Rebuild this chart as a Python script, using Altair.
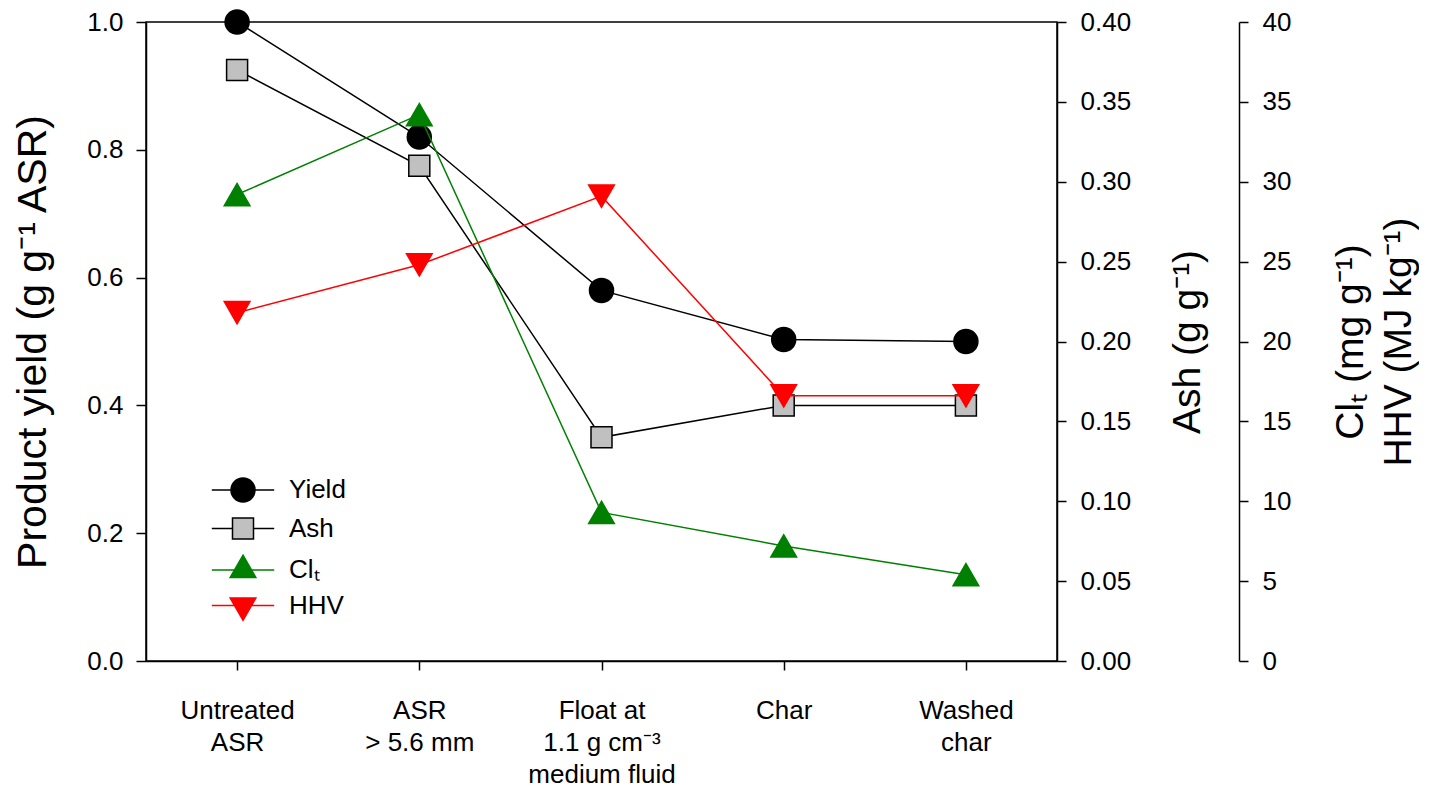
import altair as alt
import pandas as pd

# ---- data ----
categories = ["Untreated|ASR", "ASR|> 5.6 mm", "Float at|1.1 g cm⁻³|medium fluid", "Char", "Washed|char"]
yield_vals = [1.0, 0.82, 0.58, 0.503, 0.500]          # product yield (g g-1 ASR)
ash_vals = [0.37, 0.31, 0.14, 0.16, 0.16]             # ash (g g-1)
clt_vals = [29.2, 34.2, 9.3, 7.2, 5.4]                # ClT (mg g-1)
hhv_vals = [21.8, 24.8, 29.1, 16.6, 16.6]             # HHV (MJ kg-1)

series_names = ["Yield", "Ash", "Clₜ", "HHV"]
series_fills = ["#000000", "#c0c0c0", "#008000", "#ff0000"]
series_strokes = ["#000000", "#000000", "#008000", "#ff0000"]
# legend glyphs: short line with the marker in the middle
legend_paths = [
    "M-2.6,0L-1,0M1,0L2.6,0M-1,0A1,1,0,1,1,1,0A1,1,0,1,1,-1,0Z",
    "M-2.6,0L-0.875,0M0.875,0L2.6,0M-0.875,-0.875L0.875,-0.875L0.875,0.875L-0.875,0.875Z",
    "M-2.6,0L2.6,0M0,-1.236L1.07,0.618L-1.07,0.618Z",
    "M-2.6,0L2.6,0M0,1.236L1.07,-0.618L-1.07,-0.618Z",
]

df = pd.DataFrame({"cat": categories, "yield": yield_vals, "ash": ash_vals,
                   "clt": clt_vals, "hhv": hhv_vals})

FONT = "Liberation Sans"
W, H = 911, 639

x_enc = alt.X("cat:N", sort=categories,
              scale=alt.Scale(type="point", padding=0.5),
              axis=alt.Axis(title=None, labelExpr="split(datum.label, '|')", labelAngle=0,
                            labelFontSize=26, labelLineHeight=32, labelBaseline="top",
                            tickSize=9, labelPadding=27))


def series_layer(field, domain, line_color, shape, fill, stroke, size, axis):
    y = alt.Y(f"{field}:Q", scale=alt.Scale(domain=domain, nice=False, zero=True), axis=axis)
    base = alt.Chart(df).encode(x=x_enc, y=y)
    line = base.mark_line(color=line_color, strokeWidth=1.5)
    pts = base.mark_point(shape=shape, filled=True, fill=fill, stroke=stroke,
                          strokeWidth=1.5, size=size, opacity=1)
    return alt.layer(line, pts)


yield_axis = alt.Axis(orient="left", values=[0, 0.2, 0.4, 0.6, 0.8, 1.0], format=".1f",
                      title="Product yield (g g⁻¹ ASR)", titleFontSize=41, titleAngle=270,
                      titleBaseline="middle", titleX=-113, titleY=H / 2,
                      tickSize=10, labelPadding=13)
ash_axis = alt.Axis(orient="right", values=[i * 0.05 for i in range(9)], format=".2f",
                    title="Ash (g g⁻¹)", titleFontSize=39, titleAngle=270,
                    titleBaseline="middle", titleX=130, titleY=H / 2,
                    tickSize=9, labelPadding=14)
clt_axis = alt.Axis(orient="right", offset=182, values=list(range(0, 41, 5)), format="d",
                    title=["Clₜ (mg g⁻¹)", "HHV (MJ kg⁻¹)"], titleFontSize=39, titleAngle=270,
                    titleLineHeight=48, titleBaseline="middle", titleX=111, titleY=H / 2,
                    tickSize=9, labelPadding=14)

l_yield = series_layer("yield", [0, 1.0], "#000000", "circle", "#000000", "#000000", 576, yield_axis)
l_ash = series_layer("ash", [0, 0.4], "#000000", "square", "#c0c0c0", "#000000", 441, ash_axis)
l_clt = series_layer("clt", [0, 40], "#008000", "triangle-up", "#008000", "#008000", 660, clt_axis)
l_hhv = series_layer("hhv", [0, 40], "#ff0000", "triangle-down", "#ff0000", "#ff0000", 660, None)

legend_def = alt.Legend(title=None, orient="none", legendX=84, legendY=455,
                        labelFontSize=26, labelOffset=33, rowPadding=9.5,
                        symbolSize=576, symbolStrokeWidth=1.5, padding=0, offset=0)
leg_df = pd.DataFrame({"series": series_names})
legend_layer = alt.Chart(leg_df).mark_point(filled=True, opacity=1, strokeWidth=1.5, size=576).encode(
    shape=alt.Shape("series:N", scale=alt.Scale(domain=series_names, range=legend_paths), legend=legend_def),
    fill=alt.Fill("series:N", scale=alt.Scale(domain=series_names, range=series_fills), legend=legend_def),
    stroke=alt.Stroke("series:N", scale=alt.Scale(domain=series_names, range=series_strokes), legend=legend_def),
).transform_filter("datum.series == '__none__'")

chart = alt.layer(l_yield, l_ash, l_clt, l_hhv, legend_layer).resolve_scale(
    y="independent"
).properties(
    width=W, height=H,
    autosize=alt.AutoSizeParams(type="none"),
    padding={"left": 138, "top": 14, "right": 362, "bottom": 126},
).configure(
    font=FONT
).configure_view(
    stroke="#000000", strokeWidth=1.5
).configure_axis(
    labelFont=FONT, titleFont=FONT, labelColor="#000000", titleColor="#000000",
    labelFontSize=26, titleFontWeight="normal", domainColor="#000000", tickColor="#000000",
    domainWidth=1.5, tickWidth=1.5, grid=False
).configure_legend(
    labelFont=FONT, labelColor="#000000"
)

chart.save("out.html", embed_options={"renderer": "svg", "actions": False})
